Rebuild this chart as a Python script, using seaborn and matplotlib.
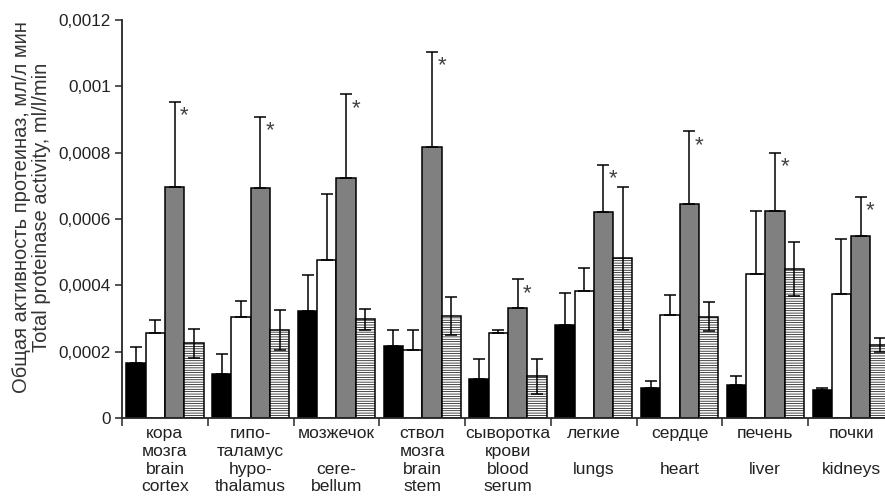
import numpy as np
import pandas as pd
import matplotlib
matplotlib.use("Agg")
import matplotlib.pyplot as plt
import seaborn as sns

sns.set_style("ticks")
plt.rcParams['font.family'] = ['Liberation Sans', 'DejaVu Sans']
plt.rcParams['hatch.linewidth'] = 0.5

# organs (ru / en)
organs = ["кора\nмозга\nbrain\ncortex",
          "гипо-\nталамус\nhypo-\nthalamus",
          "мозжечок\n\ncere-\nbellum",
          "ствол\nмозга\nbrain\nstem",
          "сыворотка\nкрови\nblood\nserum",
          "легкие\n\nlungs",
          "сердце\n\nheart",
          "печень\n\nliver",
          "почки\n\nkidneys"]

series = ["s1", "s2", "s3", "s4"]

# mean values, ml/l/min
s1 = [0.000167, 0.000133, 0.000324, 0.000216, 0.000118, 0.000279, 0.0000915, 0.0000995, 0.0000835]
s2 = [0.000256, 0.000306, 0.000477, 0.000206, 0.000255, 0.000383, 0.000310, 0.000435, 0.000373]
s3 = [0.000697, 0.000693, 0.000725, 0.000818, 0.000333, 0.000620, 0.000644, 0.000624, 0.000548]
s4 = [0.000225, 0.000265, 0.000298, 0.000307, 0.000126, 0.000481, 0.000306, 0.000449, 0.000221]

# errors
e1 = [0.000048, 0.000060, 0.000107, 0.000048, 0.000061, 0.000098, 0.0000215, 0.0000265, 0.0000065]
e2 = [0.000041, 0.000046, 0.000197, 0.000058, 0.000010, 0.000070, 0.000062, 0.000190, 0.000167]
e3 = [0.000256, 0.000215, 0.000251, 0.000287, 0.000085, 0.000144, 0.000220, 0.000176, 0.000119]
e4 = [0.000044, 0.000060, 0.000032, 0.000057, 0.000053, 0.000217, 0.000044, 0.000081, 0.000021]

yticks = [0, 0.0002, 0.0004, 0.0006, 0.0008, 0.001, 0.0012]
ytick_labels = ["0", "0,0002", "0,0004", "0,0006", "0,0008", "0,001", "0,0012"]

df = pd.DataFrame({
    "organ": organs * 4,
    "series": np.repeat(series, len(organs)),
    "value": s1 + s2 + s3 + s4,
})

fig = plt.figure(figsize=(8.85, 5.04), dpi=100)
ax = fig.add_axes([0.1379, 0.1706, 0.8723, 0.7897])

sns.barplot(data=df, x="organ", y="value", hue="series", order=organs,
            hue_order=series, palette=["black", "white", "#808080", "white"],
            edgecolor="black", linewidth=1.1, width=0.9, errorbar=None,
            legend=False, ax=ax)

bars = list(ax.containers)
for p in bars[3]:
    p.set_hatch("-------")

# error bars (plus only, hatched series both sides)
errs = [e1, e2, e3, e4]
means = [s1, s2, s3, s4]
for i, cont in enumerate(bars):
    xs = [p.get_x() + p.get_width() / 2 for p in cont]
    if i == 3:
        yerr = [errs[i], errs[i]]
    else:
        yerr = [np.zeros(len(errs[i])), errs[i]]
    ax.errorbar(xs, means[i], yerr=yerr, fmt="none", ecolor="black",
                elinewidth=1.1, capsize=4, capthick=1.1, zorder=5)
    if i == 2:
        for x, m, e in zip(xs, means[i], errs[i]):
            ax.annotate("*", (x, m + e), xytext=(7, -10), textcoords="offset points",
                        ha="center", va="center", fontsize=16, color="#404040")

ax.set_xlim(-0.5, len(organs) - 0.5)
ax.set_ylim(0, 0.0012)
ax.set_yticks(yticks)
ax.set_yticklabels(ytick_labels, fontsize=12.3, color="#222222")
ax.set_xticks(range(len(organs)))
ax.set_xticklabels(organs, fontsize=12.6, linespacing=1.22, va="top", color="#222222")
ax.set_xticks(np.arange(-0.5, len(organs), 1), minor=True)
ax.tick_params(axis="x", which="major", length=0, pad=6)
ax.tick_params(axis="x", which="minor", length=6, width=1.1, direction="out")
ax.tick_params(axis="y", length=5, width=1.1, direction="out", pad=3)

ax.set_xlabel("")
ax.set_ylabel("Общая активность протеиназ, мл/л мин\nTotal proteinase activity, ml/l/min",
              fontsize=14.5, linespacing=1.1, color="#333333")
ax.yaxis.set_label_coords(-0.092, 0.53)
sns.despine(ax=ax, top=True, right=True)
ax.spines["left"].set_linewidth(1.3)
ax.spines["bottom"].set_linewidth(1.3)

fig.savefig("out.png", dpi=100)
